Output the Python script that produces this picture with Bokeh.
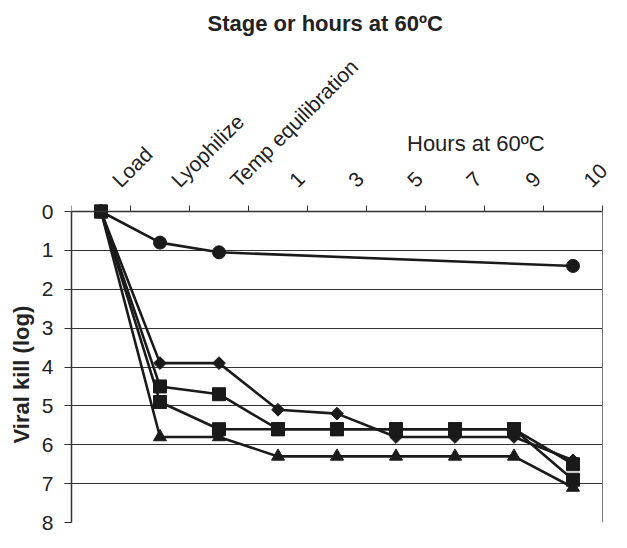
import math
from bokeh.plotting import figure
from bokeh.models import Range1d, FixedTicker, Label, Title, LinearAxis
from bokeh.embed import file_html
from bokeh.resources import INLINE

# ---- data ----
categories = ["Load", "Lyophilize", "Temp equilibration", "1", "3", "5", "7", "9", "10"]
circle_kill = [0, 0.8, 1.05, None, None, None, None, None, 1.4]
diamond_kill = [0, 3.9, 3.9, 5.1, 5.2, 5.8, 5.8, 5.8, 6.4]
square_a_kill = [0, 4.5, 4.7, 5.6, 5.6, 5.6, 5.6, 5.6, 6.5]
square_b_kill = [0, 4.9, 5.6, 5.6, 5.6, 5.6, 5.6, 5.6, 6.9]
triangle_kill = [0, 5.8, 5.8, 6.3, 6.3, 6.3, 6.3, 6.3, 7.1]
y_ticks = [0, 1, 2, 3, 4, 5, 6, 7, 8]
hours_group_start = "5"

FONT = "Liberation Sans"
INK = "#1a1a1a"
AXIS = "#333333"
TXT = "#222222"

# ---- layout (pixels) ----
W, H = 611, 532
MB_LEFT, MB_BOTTOM = 71, 10
AXIS_TOP_PX = 211          # where the value 0 (and the category axis) sits
CAT_PX = 59                # width of one category slot
frame_h = H - MB_BOTTOM    # frame runs from the top of the canvas to the bottom border
frame_w = W - MB_LEFT      # and from the left border to the right edge of the canvas
unit_px = (frame_h - AXIS_TOP_PX) / (y_ticks[-1] - y_ticks[0])
y_top = y_ticks[0] - AXIS_TOP_PX / unit_px   # header room above the value 0

n = len(categories)
x_lo, x_hi = -0.5, n - 0.5                    # category slots
x_end = x_lo + frame_w / CAT_PX               # a little room on the right for the last label

p = figure(width=W, height=H, output_backend="svg", toolbar_location=None,
           x_range=Range1d(x_lo, x_end), y_range=Range1d(y_ticks[-1], y_top),
           x_axis_location="above",
           min_border_left=MB_LEFT, min_border_right=0, min_border_top=0,
           min_border_bottom=MB_BOTTOM,
           background_fill_color="white", border_fill_color="white")
p.outline_line_color = None

# top category axis, pinned at value 0: tick marks between categories, labels slanted
label_shift = 0.25
xa = p.xaxis[0]
xa.fixed_location = y_ticks[0]
xa.bounds = (x_lo, x_hi)
xa.ticker = FixedTicker(ticks=[i + label_shift for i in range(n)],
                        minor_ticks=[i - 0.5 for i in range(n + 1)])
xa.major_label_overrides = {i + label_shift: c for i, c in enumerate(categories)}
xa.major_label_orientation = math.pi / 4
xa.major_tick_line_color = None
xa.major_tick_out = 0
xa.major_tick_in = 0
xa.minor_tick_line_color = AXIS
xa.minor_tick_out = 6
xa.minor_tick_in = 0
xa.major_label_standoff = 22
xa.major_label_text_font = FONT
xa.major_label_text_font_size = "21px"
xa.major_label_text_color = TXT
xa.axis_line_color = AXIS
xa.axis_line_width = 1.5

# left value axis, limited to 0..8
ya = p.yaxis[0]
ya.ticker = FixedTicker(ticks=y_ticks)
ya.bounds = (y_ticks[0], y_ticks[-1])
ya.major_label_text_font = FONT
ya.major_label_text_font_size = "21px"
ya.major_label_text_color = TXT
ya.major_label_standoff = 11
ya.major_tick_out = 7
ya.major_tick_in = 0
ya.major_tick_line_color = AXIS
ya.minor_tick_line_color = None
ya.axis_line_color = AXIS
ya.axis_line_width = 1.5

# value-axis title on the left side (starts 79px above the frame bottom)
p.add_layout(Title(text="Viral kill (log)", align="left", offset=79,
                   text_font=FONT, text_font_size="22px", text_font_style="bold",
                   text_color=TXT), "left")

# right border line of the plot area (0..8 only), pinned at the last slot edge
ra = LinearAxis(ticker=FixedTicker(ticks=[]), bounds=(y_ticks[0], y_ticks[-1]),
                fixed_location=x_hi,
                axis_line_color="#777777", axis_line_width=1,
                major_tick_line_color=None, minor_tick_line_color=None,
                major_tick_out=0, major_tick_in=0, major_label_standoff=0,
                major_label_text_font_size="0px")
p.add_layout(ra, "right")

p.xgrid.visible = False
yg = p.ygrid[0]
yg.grid_line_color = AXIS
yg.grid_line_width = 1
if hasattr(yg, "cross_bounds"):
    yg.cross_bounds = (x_lo, x_hi)


def series(vals, marker, size, angle=0.0):
    xs = [i for i, v in enumerate(vals) if v is not None]
    ys = [v for v in vals if v is not None]
    p.line(xs, ys, line_color=INK, line_width=2.6)
    p.scatter(xs, ys, marker=marker, size=size, angle=angle,
              fill_color=INK, line_color=INK)


series(circle_kill, "circle", 13)
series(diamond_kill, "square", 9, math.pi / 4)
series(square_a_kill, "square", 13)
series(square_b_kill, "square", 13)
series(triangle_kill, "triangle", 13)

# chart title
p.add_layout(Label(x=x_lo, y=y_ticks[0], x_offset=136, y_offset=188,
                   text="Stage or hours at 60ºC", text_font=FONT, text_font_size="22px",
                   text_font_style="bold", text_color=TXT,
                   text_align="left", text_baseline="alphabetic"))

# group label for the hour categories
p.add_layout(Label(x=categories.index(hours_group_start), y=y_ticks[0], x_offset=11, y_offset=68,
                   text="Hours at 60ºC", text_font=FONT, text_font_size="22px",
                   text_color=TXT, text_align="left", text_baseline="alphabetic"))

open("out.html", "w").write(file_html(p, INLINE))
